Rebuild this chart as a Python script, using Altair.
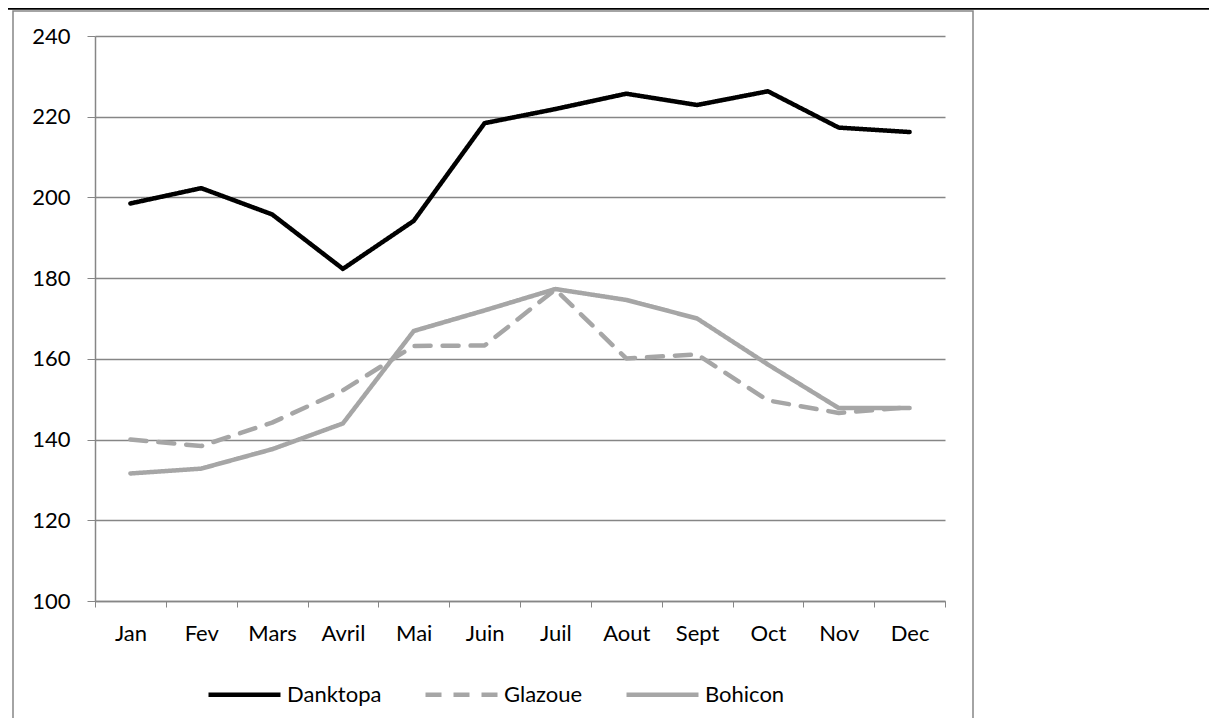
import altair as alt
import pandas as pd

months = ["Jan", "Fev", "Mars", "Avril", "Mai", "Juin", "Juil", "Aout", "Sept", "Oct", "Nov", "Dec"]
series_names = ["Danktopa", "Glazoue", "Bohicon"]
danktopa = [198.5, 202.3, 195.8, 182.3, 194.2, 218.4, 221.9, 225.7, 222.9, 226.3, 217.3, 216.2]
glazoue = [140.0, 138.4, 144.2, 152.2, 163.2, 163.3, 177.2, 160.1, 161.1, 149.7, 146.6, 148.0]
bohicon = [131.6, 132.8, 137.6, 144.0, 166.9, 172.0, 177.3, 174.6, 170.0, 158.6, 147.8, 147.8]
y_ticks = [100, 120, 140, 160, 180, 200, 220, 240]

rows = []
for name, vals in zip(series_names, [danktopa, glazoue, bohicon]):
    for m, v in zip(months, vals):
        rows.append({"Mois": m, "Serie": name, "Valeur": v})
df = pd.DataFrame(rows)

FONT = "Lato"
FS = 22
GRID = "#868686"

legend_kw = dict(title=None, orient="none", legendX=111, legendY=620,
                 direction="horizontal", symbolType="stroke",
                 symbolSize=5184, symbolStrokeWidth=4.5,
                 labelFontSize=FS, labelFont=FONT, labelColor="#000000",
                 columnPadding=34, labelOffset=4)

lines = alt.Chart(df).mark_line(strokeWidth=4.5, strokeCap="round", strokeJoin="round").encode(
    x=alt.X("Mois:N", sort=months, title=None,
            scale=alt.Scale(paddingInner=0, paddingOuter=0),
            axis=alt.Axis(labelAngle=0, tickBand="extent", tickSize=6, tickColor=GRID,
                          domainColor=GRID, domainWidth=1.5, labelPadding=16,
                          labelFontSize=FS, labelFont=FONT, labelColor="#000000", grid=False)),
    y=alt.Y("Valeur:Q", title=None,
            scale=alt.Scale(domain=[100, 240], nice=False, zero=False),
            axis=alt.Axis(values=y_ticks, tickSize=8, tickColor=GRID, domainColor=GRID,
                          domainWidth=1.5, gridColor=GRID, gridWidth=1.5, labelPadding=17,
                          labelFontSize=FS, labelFont=FONT, labelColor="#000000")),
    color=alt.Color("Serie:N", sort=series_names,
                    scale=alt.Scale(domain=series_names, range=["#000000", "#a6a6a6", "#a6a6a6"]),
                    legend=alt.Legend(**legend_kw)),
    strokeDash=alt.StrokeDash("Serie:N", sort=series_names,
                              scale=alt.Scale(domain=series_names, range=[[1, 0], [16, 12], [1, 0]]),
                              legend=alt.Legend(**legend_kw)),
)

deco = pd.DataFrame({"k": [0]})
frame = alt.Chart(deco).mark_rect(fill=None, stroke=GRID, strokeWidth=1.5).encode(
    x=alt.value(-82), x2=alt.value(878), y=alt.value(-25), y2=alt.value(720)
)
top_rule = alt.Chart(deco).mark_rule(color="#000000", strokeWidth=2.5).encode(
    x=alt.value(-95), x2=alt.value(1130), y=alt.value(-27.5)
)

chart = alt.layer(frame, top_rule, lines).properties(
    width=850, height=565,
    autosize=alt.AutoSizeParams(type="none"),
    padding={"left": 87, "top": 28, "right": 264, "bottom": 117},
    background="#ffffff",
).configure_view(stroke=None)

chart.save("out.html", embed_options={"renderer": "svg", "actions": False})
